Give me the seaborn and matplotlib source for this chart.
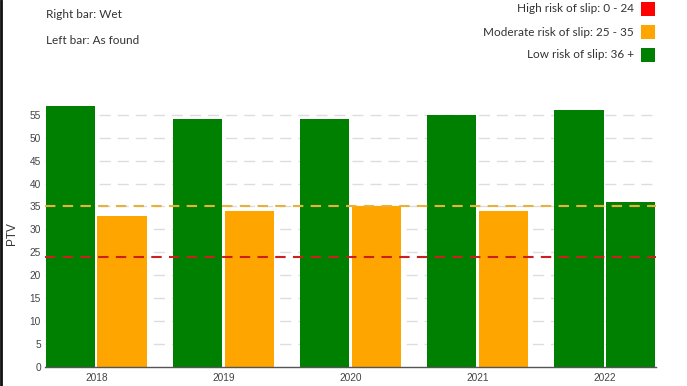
import matplotlib
matplotlib.use("Agg")
import matplotlib.pyplot as plt
import seaborn as sns
import pandas as pd
from matplotlib.lines import Line2D
from matplotlib.patches import Rectangle

years = ["2018", "2019", "2020", "2021", "2022"]
as_found = [57, 54, 54, 55, 56]
wet = [33, 34, 35, 34, 36]
conditions = ["As found", "Wet"]
high_limit = 24
moderate_limit = 35
legend_labels = ["High risk of slip: 0 - 24", "Moderate risk of slip: 25 - 35", "Low risk of slip: 36 +"]
legend_colors = ["#ff0000", "#ffa500", "#008000"]

df = pd.DataFrame({
    "year": years * 2,
    "PTV": as_found + wet,
    "cond": [conditions[0]] * len(years) + [conditions[1]] * len(years),
})

sns.set_style("white")
plt.rcParams["font.family"] = ["Liberation Sans", "DejaVu Sans"]

fig = plt.figure(figsize=(6.87, 3.86), dpi=100)
ax = fig.add_axes([45 / 687, 1 - 367 / 386, (656 - 45) / 687, (367 - 101) / 386])

sns.barplot(data=df, x="year", y="PTV", hue="cond", hue_order=conditions,
            width=0.81, gap=0.04, ax=ax, legend=False, saturation=1,
            errorbar=None, zorder=2)

def risk_color(v):
    if v <= high_limit:
        return legend_colors[0]
    if v <= moderate_limit:
        return legend_colors[1]
    return legend_colors[2]

for cont in ax.containers:
    for p in cont:
        p.set_facecolor(risk_color(p.get_height()))
        p.set_edgecolor("none")

ax.set_xlim(-0.405, 4.405)
ax.set_ylim(0, 58)
ax.set_yticks(range(0, 60, 5))
for y in range(5, 60, 5):
    ax.axhline(y, color="#dddddd", lw=1, ls=(0, (8, 5)), zorder=0)

ax.axhline(moderate_limit, color="#e8b23a", lw=1.5, ls=(0, (5, 3.5)), zorder=3)
ax.axhline(high_limit, color="#cc1f1f", lw=1.5, ls=(0, (5, 3.5)), zorder=3)

for s in ["top", "right", "left"]:
    ax.spines[s].set_visible(False)
ax.spines["bottom"].set_color("#555555")
ax.spines["bottom"].set_linewidth(1)
ax.tick_params(axis="both", labelsize=7.3, colors="#444444", length=0, pad=3)
ax.tick_params(axis="x", pad=4)
ax.set_xlabel("")
ax.set_ylabel("PTV", fontsize=8.5, color="#333333")
ax.yaxis.set_label_coords((18 - 45) / 611, 0.5)

fig.text(46 / 687, 1 - 15 / 386, "Right bar: Wet", family="Lato", fontsize=8.5,
         color="#333333", va="center", ha="left")
fig.text(46 / 687, 1 - 41 / 386, "Left bar: As found", family="Lato", fontsize=8.5,
         color="#333333", va="center", ha="left")

rows_y = [9, 32, 55]
for lab, col, yy in zip(legend_labels, legend_colors, rows_y):
    fig.text(634 / 687, 1 - yy / 386, lab, family="Lato", fontsize=8.5,
             color="#333333", va="center", ha="right")
    fig.add_artist(Rectangle((641 / 687, 1 - (yy + 7) / 386), 14 / 687, 14 / 386,
                             transform=fig.transFigure, facecolor=col, edgecolor="none"))

fig.add_artist(Line2D([1 / 687, 1 / 687], [0, 1], transform=fig.transFigure,
                      color="#111111", lw=2))

fig.savefig("out.png", dpi=100)
